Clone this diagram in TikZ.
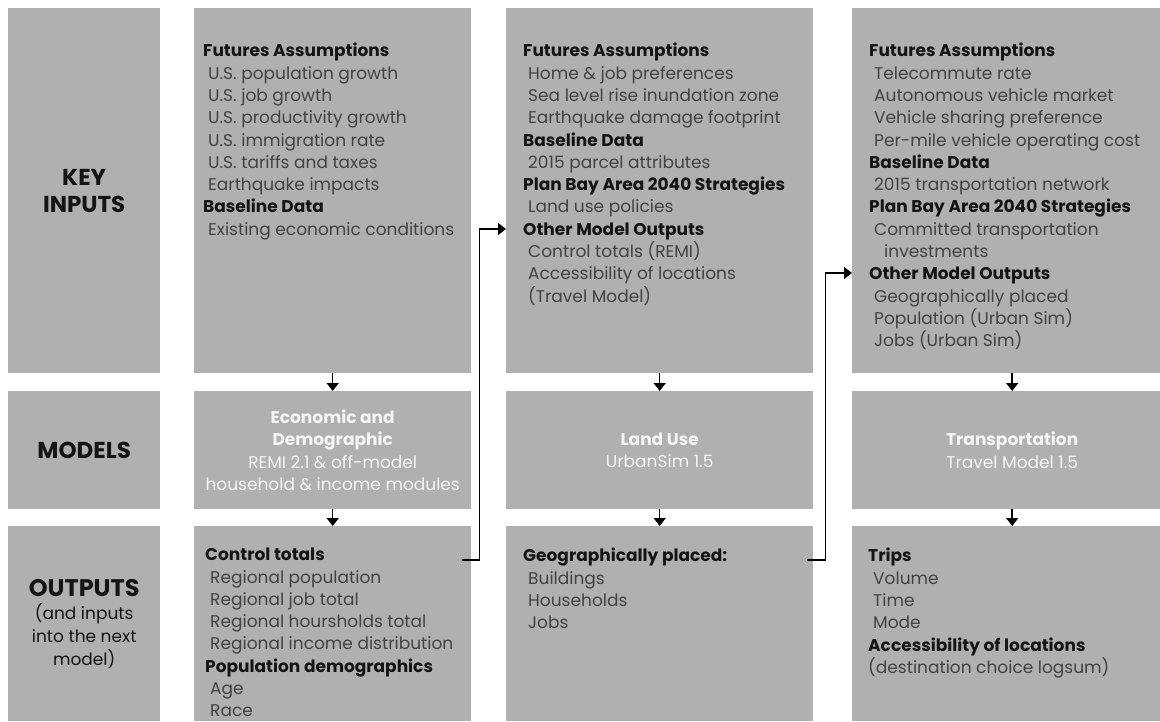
\documentclass[tikz,border=0pt]{standalone}
\usepackage{fontspec}
\setmainfont{Poppins}
\usepackage{xcolor}
\usetikzlibrary{arrows.meta, positioning, calc}
\definecolor{panelgray}{HTML}{B0B0B0}
\definecolor{headtext}{HTML}{141414}
\definecolor{itemtext}{HTML}{424242}
\definecolor{modeltext}{HTML}{F5F5F5}
\newcommand{\grphead}[1]{{\bfseries\color{headtext}#1}}
\newcommand{\grpitem}[1]{\hspace*{5pt}#1}

\begin{document}
\begin{tikzpicture}[
    x=1pt, y=-1pt,
    panel/.style 2 args={rectangle, fill=panelgray, inner sep=0pt, anchor=north west,
                minimum width=#1pt, minimum height=#2pt},
    rowlabel/.style={align=center, text=headtext,
                font=\bfseries\fontsize{23}{27}\selectfont},
    model/.style={align=center, text=modeltext, font=\fontsize{17}{22.3}\selectfont},
    listing/.style={anchor=north west, inner sep=0pt, align=left, text=itemtext,
                font=\fontsize{17}{22.3}\selectfont},
    link/.style={-{Triangle[length=8pt, width=12pt]}, line width=1.5pt, color=black}
]
\path[use as bounding box] (0,0) rectangle (1160,721);
\clip (0,0) rectangle (1160,721);

\node[panel={152}{365}, rowlabel] (keyin) at (8,8) {KEY\\INPUTS};
\node[panel={152}{118}, rowlabel] (modlab) at (8,391) {MODELS};
\node[panel={152}{195}, rowlabel, font=\fontsize{17}{23}\selectfont] (outlab) at (8,526)
    {{\bfseries\fontsize{24}{27}\selectfont OUTPUTS}\\(and inputs\\into the next\\model)};

\node[panel={277}{365}] (in1) at (194,8) {};
\node[panel={307}{365}] (in2) at (506,8) {};
\node[panel={320}{365}] (in3) at (852,8) {};

\node[panel={277}{118}, model] (mod1) at (194,391)
    {\textbf{Economic and}\\\textbf{Demographic}\\REMI 2.1 \& off-model\\household \& income modules};
\node[panel={307}{118}, model] (mod2) at (506,391) {\textbf{Land Use}\\UrbanSim 1.5};
\node[panel={320}{118}, model] (mod3) at (852,391) {\textbf{Transportation}\\Travel Model 1.5};

\node[panel={277}{195}] (out1) at (194,526) {};
\node[panel={307}{195}] (out2) at (506,526) {};
\node[panel={320}{195}] (out3) at (852,526) {};

\node[listing] (in1txt) at ([shift={(9pt,-35pt)}]in1.north west) {%
    \grphead{Futures Assumptions}\\
    \grpitem{U.S. population growth}\\
    \grpitem{U.S. job growth}\\
    \grpitem{U.S. productivity growth}\\
    \grpitem{U.S. immigration rate}\\
    \grpitem{U.S. tariffs and taxes}\\
    \grpitem{Earthquake impacts}\\
    \grphead{Baseline Data}\\
    \grpitem{Existing economic conditions}};
\node[listing] (in2txt) at ([shift={(17pt,-35pt)}]in2.north west) {%
    \grphead{Futures Assumptions}\\
    \grpitem{Home \& job preferences}\\
    \grpitem{Sea level rise inundation zone}\\
    \grpitem{Earthquake damage footprint}\\
    \grphead{Baseline Data}\\
    \grpitem{2015 parcel attributes}\\
    \grphead{Plan Bay Area 2040 Strategies}\\
    \grpitem{Land use policies}\\
    \grphead{Other Model Outputs}\\
    \grpitem{Control totals (REMI)}\\
    \grpitem{Accessibility of locations}\\
    \grpitem{(Travel Model)}};
\node[listing] (in3txt) at ([shift={(17pt,-35pt)}]in3.north west) {%
    \grphead{Futures Assumptions}\\
    \grpitem{Telecommute rate}\\
    \grpitem{Autonomous vehicle market}\\
    \grpitem{Vehicle sharing preference}\\
    \grpitem{Per-mile vehicle operating cost}\\
    \grphead{Baseline Data}\\
    \grpitem{2015 transportation network}\\
    \grphead{Plan Bay Area 2040 Strategies}\\
    \grpitem{Committed transportation}\\
    \grpitem{\hspace*{10pt}investments}\\
    \grphead{Other Model Outputs}\\
    \grpitem{Geographically placed}\\
    \grpitem{Population (Urban Sim)}\\
    \grpitem{Jobs (Urban Sim)}};

\node[listing] (out1txt) at ([shift={(11pt,-22pt)}]out1.north west) {%
    \grphead{Control totals}\\
    \grpitem{Regional population}\\
    \grpitem{Regional job total}\\
    \grpitem{Regional hoursholds total}\\
    \grpitem{Regional income distribution}\\
    \grphead{Population demographics}\\
    \grpitem{Age}\\
    \grpitem{Race}};
\node[listing] (out2txt) at ([shift={(17pt,-22pt)}]out2.north west) {%
    \grphead{Geographically placed:}\\
    \grpitem{Buildings}\\
    \grpitem{Households}\\
    \grpitem{Jobs}};
\node[listing] (out3txt) at ([shift={(16pt,-22pt)}]out3.north west) {%
    \grphead{Trips}\\
    \grpitem{Volume}\\
    \grpitem{Time}\\
    \grpitem{Mode}\\
    \grphead{Accessibility of locations}\\
    (destination choice logsum)};

\draw[link] (in1.south) -- (mod1.north);
\draw[link] (mod1.south) -- (out1.north);
\draw[link] (in2.south) -- (mod2.north);
\draw[link] (mod2.south) -- (out2.north);
\draw[link] (in3.south) -- (mod3.north);
\draw[link] (mod3.south) -- (out3.north);

\draw[link] ([shift={(-9pt,-34pt)}]out1.north east) -- ++(17pt,0pt) |- ([yshift=-221pt]in2.north west);
\draw[link] ([shift={(-6pt,-34pt)}]out2.north east) -- ++(18pt,0pt) |- ([yshift=-265pt]in3.north west);

\end{tikzpicture}
\end{document}
